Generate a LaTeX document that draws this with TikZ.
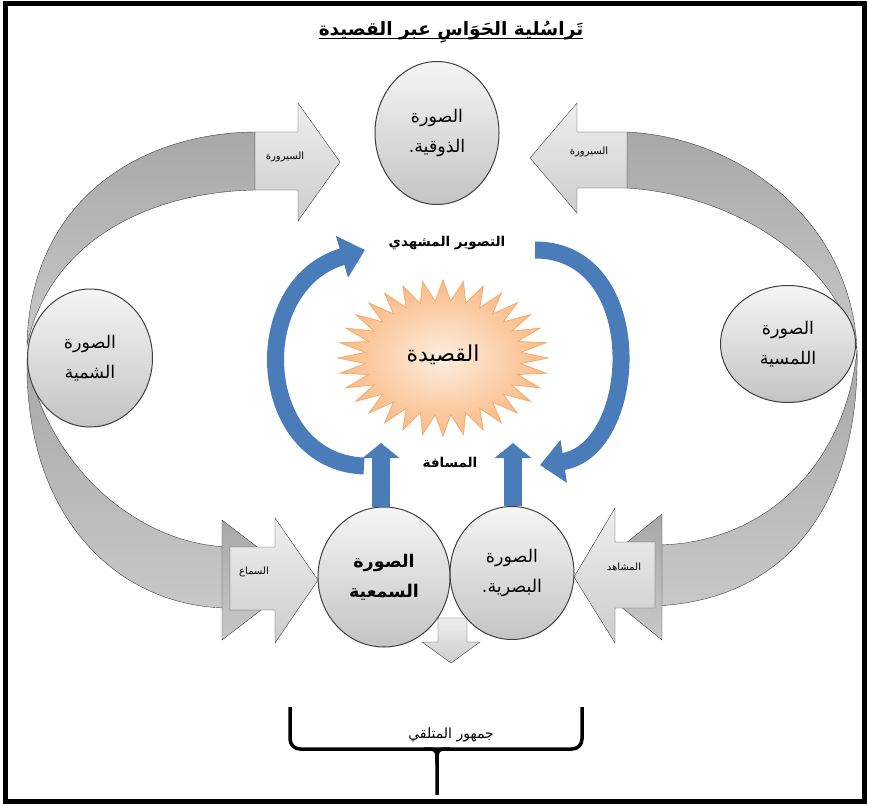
\documentclass[tikz,border=0pt]{standalone}
\usepackage{fontspec}
\usetikzlibrary{shapes.geometric,arrows.meta,positioning,calc}
\TeXXeTstate=1
\newfontfamily\arabicfont[Script=Arabic]{DejaVu Sans}
\newcommand{\artext}[1]{{\arabicfont\beginR #1\endR}}

\definecolor{ringline}{RGB}{64,64,64}
\definecolor{ringtop}{RGB}{245,245,245}
\definecolor{ringbottom}{RGB}{196,196,196}
\definecolor{ribbontop}{RGB}{168,168,168}
\definecolor{ribbonbottom}{RGB}{200,200,200}
\definecolor{blocklight}{RGB}{238,238,238}
\definecolor{blockdark}{RGB}{205,205,205}
\definecolor{poemlight}{RGB}{253,238,224}
\definecolor{poemdark}{RGB}{250,186,132}
\definecolor{poemline}{RGB}{244,172,112}
\definecolor{flowblue}{RGB}{74,124,186}

\begin{document}
\begin{tikzpicture}[x=1pt, y=-1pt]

        % styles for the senses, the ribbons and the arrows
        \tikzset{
            sense/.style={ellipse, draw=ringline, line width=1pt, top color=ringtop,
                bottom color=ringbottom, inner sep=0pt, align=center,
                font=\fontsize{17.5}{30}\selectfont},
            ribbon/.style={draw=ringline, top color=ribbontop, bottom color=ribbonbottom},
            block/.style={draw=ringline, top color=blocklight, bottom color=blockdark},
            blocklabel/.style={font=\fontsize{10}{11}\selectfont, inner sep=1pt},
            upflow/.style={flowblue, line width=18pt, -{Triangle[width=36pt,length=15pt]}},
            curveflow/.style={flowblue, line width=17pt, -{Triangle[width=42pt,length=24pt]}},
            caption/.style={font=\bfseries\fontsize{13.5}{15}\selectfont},
            brace/.style={line width=3.5pt, rounded corners=10pt}
        }

        \useasboundingbox (0,0) rectangle (869,805);
        \draw[line width=5pt] (5,4) rectangle (864,801);

        \node[font=\bfseries\fontsize{18.5}{22}\selectfont, inner sep=0pt] (title)
            at (451,32) {\artext{تَراسُلية الحَوَاسِ عبر القصيدة}};
        \draw[thick] ([yshift=-3pt]title.base west) -- ([yshift=-3pt]title.base east);

        % Ribbons behind the grey arrows
        \draw[ribbon] (255,132) .. controls (140,133) and (30,200) .. (27,345)
            .. controls (50,240) and (150,192) .. (255,190) -- cycle;
        \draw[ribbon] (27,360) .. controls (25,520) and (120,608) .. (230,608)
            -- (230,547) .. controls (140,545) and (50,470) .. (27,360) -- cycle;
        \draw[ribbon] (627,132) .. controls (745,138) and (852,225) .. (857,350)
            .. controls (835,260) and (735,195) .. (627,188) -- cycle;
        \draw[ribbon] (655,606) .. controls (790,600) and (860,500) .. (857,350)
            .. controls (845,470) and (760,545) .. (655,545) -- cycle;
        \draw[ribbon] (222,520) -- (300,580) -- (222,640) -- cycle;
        \draw[ribbon] (662,514) -- (584,577) -- (662,640) -- cycle;

        % Grey block arrows
        \draw[block] (255,132) -- (298,132) -- (298,103) -- (340,162)
            -- (298,221) -- (298,190) -- (255,190) -- cycle;
        \draw[block] (627,132) -- (577,132) -- (577,103) -- (530,158)
            -- (577,213) -- (577,188) -- (627,188) -- cycle;
        \draw[block] (230,547) -- (275,547) -- (275,518) -- (318,580)
            -- (275,643) -- (275,610) -- (230,610) -- cycle;
        \draw[block] (655,542) -- (615,542) -- (615,508) -- (574,577)
            -- (615,643) -- (615,608) -- (655,608) -- cycle;
        \draw[block] (438,618) -- (467,618) -- (467,642) -- (480,642)
            -- (451,663) -- (422,642) -- (438,642) -- cycle;

        \node[blocklabel] (procL) at (285,157) {\artext{السيرورة}};
        \node[blocklabel] (procR) at (589,152) {\artext{السيرورة}};
        \node[blocklabel] (hearing) at (254,572) {\artext{السماع}};
        \node[blocklabel] (viewer) at (624,567) {\artext{المشاهد}};

        % The poem star
        \begin{scope}[shift={(443,358)}]
            \draw[draw=poemline, thick, inner color=poemlight, outer color=poemdark]
                (0:105 and 78) \foreach \i in {0,...,31}
                { -- ({\i*11.25+5.625}:78 and 57) -- ({(\i+1)*11.25}:105 and 78) }
                -- cycle;
        \end{scope}
        \node[font=\fontsize{22}{24}\selectfont] (poem) at (443,355) {\artext{القصيدة}};

        % The five senses
        \node[sense, minimum width=124pt, minimum height=143pt] (taste)
            at (437,133) {\artext{الصورة}\\\artext{الذوقية.}};
        \node[sense, minimum width=125pt, minimum height=138pt] (smell)
            at (90,358) {\artext{الصورة}\\\artext{الشمية}};
        \node[sense, minimum width=135pt, minimum height=117pt] (touch)
            at (788,344) {\artext{الصورة}\\\artext{اللمسية}};
        \node[sense, minimum width=132pt, minimum height=140pt,
            font=\bfseries\fontsize{17.5}{30}\selectfont] (hear)
            at (384,577) {\artext{الصورة}\\\artext{السمعية}};
        \node[sense, minimum width=124pt, minimum height=133pt] (sight)
            at (512,573) {\artext{الصورة}\\\artext{البصرية.}};

        % Blue arrows round the poem
        \coordinate (hearTip) at (381,443);
        \coordinate (sightTip) at (513,443);
        \draw[upflow] (hear.north -| hearTip) -- (hearTip);
        \draw[upflow] (sight.north -| sightTip) -- (sightTip);

        \coordinate (leftTail) at (364,466);
        \coordinate (leftHead) at (365,250);
        \coordinate (rightTail) at (535,250);
        \coordinate (rightHead) at (540,465);
        \draw[curveflow] (leftTail) .. controls (255,462) and (245,285) .. (leftHead);
        \draw[curveflow] (rightTail) .. controls (650,250) and (640,450) .. (rightHead);

        \node[caption] (scene) at (447,243) {\artext{التصوير المشهدي}};
        \node[caption] (distance) at (450,463) {\artext{المسافة}};

        % Audience brace
        \draw[brace] (290,707) -- (290,749) -- (582,749) -- (582,707);
        \draw[line width=3.5pt] (424,749) .. controls (437,749) .. (437,764) -- (437,795);
        \draw[line width=3.5pt] (450,749) .. controls (437,749) .. (437,764);
        \node[font=\fontsize{14}{16}\selectfont] (audience) at (451,735) {\artext{جمهور المتلقي}};

\end{tikzpicture}
\end{document}
